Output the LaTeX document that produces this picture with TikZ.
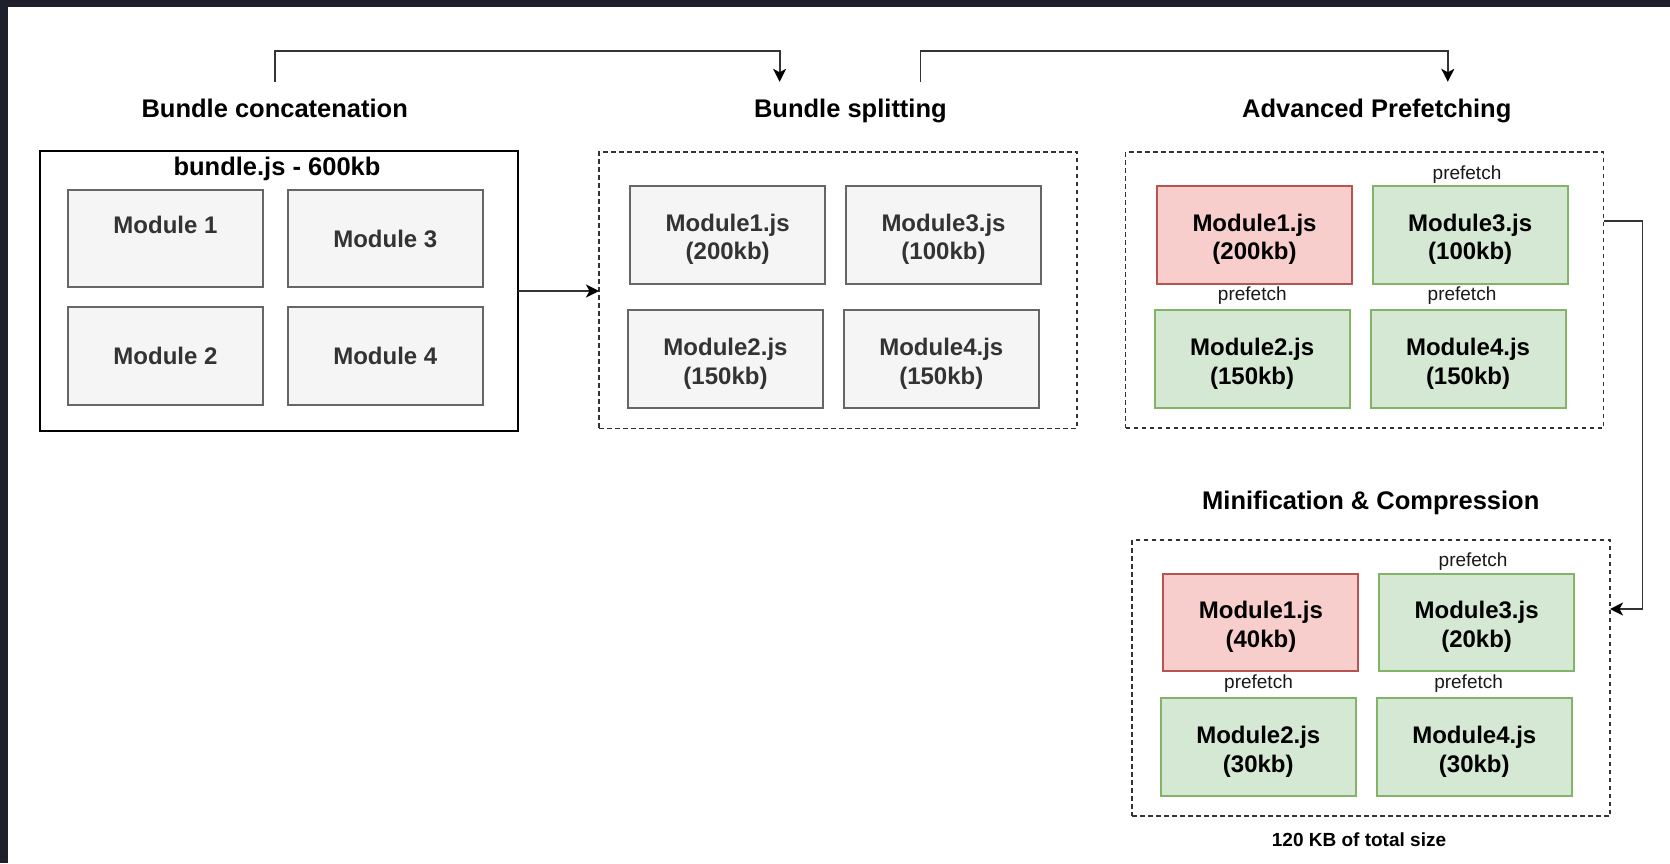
\documentclass[tikz,border=0pt]{standalone}
\usepackage{fontspec}
\setmainfont{Liberation Sans}
\usetikzlibrary{arrows.meta}

\definecolor{band}{HTML}{1E212B}
\definecolor{gfill}{HTML}{F5F5F5}
\definecolor{gline}{HTML}{666666}
\definecolor{gtext}{HTML}{333333}
\definecolor{rfill}{HTML}{F8CECC}
\definecolor{rline}{HTML}{B85450}
\definecolor{grfill}{HTML}{D5E8D4}
\definecolor{grline}{HTML}{82B366}
\definecolor{wire}{HTML}{333333}

% two-line module caption, set a little below the optical centre of its box
\newcommand\twoline[2]{\raisebox{-5pt}[\height][\depth]{%
  \begin{tabular}{@{}c@{}}#1\\#2\end{tabular}}}

\tikzset{
  stagetitle/.style={font=\fontsize{25.5}{30}\selectfont\bfseries, anchor=base,
    text height=18.3pt, text depth=5pt, inner xsep=2pt, inner ysep=16.7pt},
  modbox/.style={minimum width=195pt, minimum height=97.5pt, inner sep=0pt, outer sep=0pt,
    line width=2pt, align=center, font=\fontsize{24}{28.7}\selectfont\bfseries},
  graymod/.style={modbox, fill=gfill, draw=gline, text=gtext},
  redmod/.style={modbox, fill=rfill, draw=rline, text=black},
  greenmod/.style={modbox, fill=grfill, draw=grline, text=black},
  group/.style={draw=wire, line width=1.9pt, dash pattern=on 4.5pt off 3.5pt,
    minimum width=478pt, minimum height=276pt, inner sep=0pt, outer sep=0pt},
  hint/.style={font=\fontsize{19}{22}\selectfont, anchor=base, text=black!90, inner sep=0pt},
  conn/.style={draw=wire, line width=1.8pt,
    -{Stealth[length=13pt, width=13pt, inset=3.5pt, color=black]}},
}

\begin{document}
\begin{tikzpicture}[x=1pt, y=-1pt]
  % canvas and the dark window frame along the top and left edges
  \useasboundingbox (0,0) rectangle (1670,863);
  \fill[white] (0,0) rectangle (1670,863);
  \fill[band] (0,0) rectangle (1670,7.3);
  \fill[band] (0,0) rectangle (8,863);

  % stage titles
  \node[stagetitle] (t1) at (274.7,117) {Bundle concatenation};
  \node[stagetitle] (t2) at (850.4,117) {Bundle splitting};
  \node[stagetitle] (t3) at (1376.8,117) {Advanced Prefetching};
  \node[stagetitle] (t4) at (1370.8,509.3) {Minification \& Compression};

  % stage 1: a single bundle
  \node[draw=black, line width=2pt, minimum width=478pt, minimum height=279.5pt,
        inner sep=0pt, outer sep=0pt] (bundle) at (278.5,291) {};
  \node[font=\fontsize{25.5}{30}\selectfont\bfseries, anchor=base, inner sep=0pt]
        (bundlelbl) at (277,175) {bundle.js - 600kb};
  \node[graymod, text depth=28pt] (b1) at (165.5,238.5) {Module 1};
  \node[graymod] (b3) at (385.3,238.5) {Module 3};
  \node[graymod] (b2) at (165.5,356) {Module 2};
  \node[graymod] (b4) at (385.3,356) {Module 4};

  % stage 2: split files
  \node[group, minimum height=276.5pt] (split) at (838,290.2) {};
  \node[graymod] (s1) at (727.7,234.8) {\twoline{Module1.js}{(200kb)}};
  \node[graymod] (s3) at (943.5,234.8) {\twoline{Module3.js}{(100kb)}};
  \node[graymod] (s2) at (725.5,359) {\twoline{Module2.js}{(150kb)}};
  \node[graymod] (s4) at (941.3,359) {\twoline{Module4.js}{(150kb)}};

  % stage 3: prefetching
  \node[group] (adv) at (1364.5,290.3) {};
  \node[redmod] (a1) at (1254.5,234.8) {\twoline{Module1.js}{(200kb)}};
  \node[greenmod] (a3) at (1470.2,234.8) {\twoline{Module3.js}{(100kb)}};
  \node[greenmod] (a2) at (1252.1,359) {\twoline{Module2.js}{(150kb)}};
  \node[greenmod] (a4) at (1468,359) {\twoline{Module4.js}{(150kb)}};
  \node[hint] (ap3) at (1467,179) {prefetch};
  \node[hint] (ap2) at (1252.3,300.7) {prefetch};
  \node[hint] (ap4) at (1462,300.7) {prefetch};

  % stage 4: minified and compressed
  \node[group] (mini) at (1371,678) {};
  \node[redmod] (m1) at (1260.9,622.5) {\twoline{Module1.js}{(40kb)}};
  \node[greenmod] (m3) at (1476.6,622.5) {\twoline{Module3.js}{(20kb)}};
  \node[greenmod] (m2) at (1258.3,747) {\twoline{Module2.js}{(30kb)}};
  \node[greenmod] (m4) at (1474.3,747) {\twoline{Module4.js}{(30kb)}};
  \node[hint] (mp3) at (1473,566.7) {prefetch};
  \node[hint] (mp2) at (1258.5,688) {prefetch};
  \node[hint] (mp4) at (1468.6,688) {prefetch};
  \node[font=\fontsize{19}{22}\selectfont\bfseries, anchor=base, inner sep=0pt]
        (total) at (1359,846.7) {120 KB of total size};

  % connectors between the stages
  \draw[conn] (t1.north) -- ++(0,-31) -| ([xshift=-70.8pt]t2.north);
  \draw[conn] ([xshift=70pt]t2.north) -- ++(0,-31) -| ([xshift=71pt]t3.north);
  \draw[conn] (bundle.east) -- (bundle.east -| split.west);
  \draw[conn] ([yshift=69.5pt]adv.east) -- ++(39,0) |- ([yshift=69pt]mini.east);
\end{tikzpicture}
\end{document}
